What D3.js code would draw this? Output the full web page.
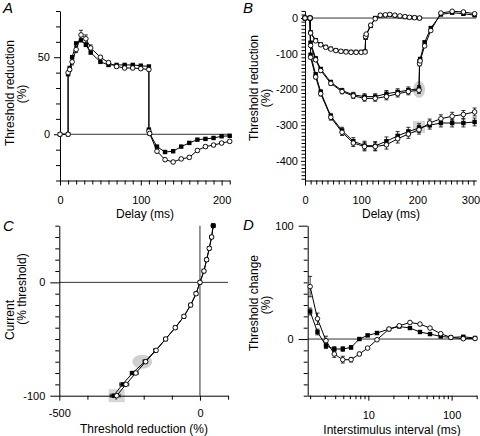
<!DOCTYPE html>
<html><head><meta charset="utf-8">
<script src="https://cdn.jsdelivr.net/npm/d3@7"></script>
<style>body{margin:0;background:#fff} svg{display:block} text{font-family:"Liberation Sans",Arial,sans-serif;fill:#000}</style>
</head><body><svg id="c" width="480" height="436"></svg>
<script>
// ---------- Panel A ----------
const aDelay  = [0, 10, 10, 12, 15, 20, 26, 32, 38, 50, 60, 70, 80, 90, 100, 110, 110, 111, 120, 130, 140, 150, 160, 170, 180, 190, 200, 210];
const aFilled = [0, 0, 39, 43, 50, 59, 61, 58, 53, 47, 45, 45, 45, 45, 44.5, 44, 3, 0.5, -8, -11.5, -11, -8, -5.6, -3.5, -3, -2.4, -1.3, -1];
const aOpen   = [0, 0, 40, 42, 47, 55, 64.5, 62, 56, 50, 46.5, 44, 43, 43, 42.6, 42, 2, 0.5, -11, -16.5, -18, -16, -15, -10.5, -8, -7, -5.7, -4.6];
const aOpenErr = [0, 0, 1, 1, 2, 2, 3, 2.5, 2, 1, 1, 1, 1, 1, 1, 1, 1, 0.5, 1, 1, 1, 1, 1, 1, 1, 1, 1, 1];
// ---------- Panel B ----------
const bTopDelay  = [0, 9, 10, 19, 28, 37, 46, 55, 64, 73, 82, 91, 100, 107, 108, 109, 117, 125, 134, 143, 151, 160, 169, 178, 186, 195, 204];
const bTopOpen   = [0, 0, -42, -64, -75, -82, -87, -91, -93, -95, -96, -96, -96, -95, -52, -45, -20, -2, 8, 9, 10, 8, 6, 4, 2, 1, 0];
const bTopFilled = [0, 0, -40, -62, -74, -81, -86, -90, -93, -94, -95, -95, -95, -94, -55, -48, -22, 0, 7, 8, 9, 7, 5, 3, 2, 1, 0];
const bMidDelay  = [0, 9, 10, 19, 28, 46, 66, 86, 106, 125, 145, 165, 184, 203, 204, 205, 213, 224, 242, 262, 282, 302];
const bMidFilled = [0, 0, -69, -113, -143, -180, -203, -215, -220, -220, -212, -207, -202, -198, -122, -115, -68, -28, 10, 15, 12, 8];
const bMidOpen   = [0, 0, -77, -117, -147, -183, -206, -218, -225, -225, -220, -212, -206, -202, -128, -120, -78, -35, 14, 19, 17, 12];
const bMidErr    = [0, 0, 3, 4, 5, 6, 6, 7, 8, 8, 9, 9, 9, 9, 6, 5, 4, 3, 3, 3, 3, 3];
const bBotDelay  = [0, 9, 10, 19, 28, 46, 66, 86, 106, 125, 145, 165, 184, 203, 222, 242, 262, 282, 302];
const bBotFilled = [0, 0, -103, -158, -207, -275, -315, -345, -357, -358, -345, -330, -318, -308, -300, -294, -294, -294, -291];
const bBotOpen   = [0, 0, -110, -165, -212, -278, -320, -350, -360, -360, -355, -338, -325, -313, -294, -282, -275, -270, -263];
const bBotErr    = [0, 0, 4, 5, 6, 8, 9, 10, 12, 12, 12, 12, 12, 12, 11, 11, 11, 11, 11];
// ---------- Panel C ----------
const cCurrent = [50, 40, 30, 20, 10, 0, -10, -20, -30, -40, -50, -60, -70, -80, -90, -100];
const cOpen    = [47, 41.5, 33, 23.7, 14.2, 0, -14, -33, -57, -88, -122, -156, -193, -228, -263, -296];
const cFilled  = [47, 41, 33, 23.5, 14, 0, -14, -33, -57, -88, -122, -158, -196, -240, -275, -307];
const cErr     = [0, 0, 0, 0, 0, 0, 0, 0, 0, 0, 0, 2, 4, 8, 10, 12];
// ---------- Panel D ----------
const dInterval = [2.0, 2.45, 3.1, 3.9, 4.93, 6.2, 7.8, 9.8, 12.7, 17.7, 23.5, 31.6, 41.7, 55, 74, 98, 138, 191];
const dOpen     = [46.3, 17.9, -1.5, -13.2, -18.2, -18.2, -13.2, -8, -0.6, 8.8, 11.7, 14.6, 13.2, 9.7, 4.7, 1.4, 0.3, 0.5];
const dFilled   = [24.3, 6.2, -5.9, -8.8, -8.8, -7.4, 0, 3.2, 5.3, 8.8, 11.1, 9.7, 6.2, 4.4, 2.3, 1.4, 2, 0.9];
const dOpenErr  = [9, 5, 4, 3, 3, 2, 1.5, 1, 1, 1, 1, 1, 1, 1, 1, 1, 1, 1];
const dFilledErr= [3, 2.5, 2.5, 2, 2, 1.5, 1, 1, 1, 1, 1, 1, 1, 1, 1, 1, 1, 1];

const svg = d3.select("#c");
const range = (a, b, s) => d3.range(a, b + s / 2, s).map(v => Math.round(v * 100) / 100);

function yAxis(scale, x0, all, labeled, minorLen, majorLen, pad) {
  const g1 = svg.append("g").attr("transform", `translate(${x0},0)`);
  g1.call(d3.axisLeft(scale).tickValues(all.filter(v => !labeled.includes(v))).tickSize(minorLen).tickSizeOuter(0).tickFormat(""));
  const g2 = svg.append("g").attr("transform", `translate(${x0},0)`);
  g2.call(d3.axisLeft(scale).tickValues(labeled).tickSize(majorLen).tickPadding(pad).tickFormat(d => String(d)));
  g2.select(".domain").remove();
  [g1, g2].forEach(g => { g.selectAll("line,path").attr("stroke", "#000").attr("stroke-width", 1); g.selectAll("text").attr("font-size", 11).attr("font-family", "Liberation Sans, Arial, sans-serif"); });
  return g2;
}
function xAxis(scale, y0, all, labeled, minorLen, majorLen, pad) {
  const g1 = svg.append("g").attr("transform", `translate(0,${y0})`);
  g1.call(d3.axisBottom(scale).tickValues(all.filter(v => !labeled.includes(v))).tickSize(minorLen).tickSizeOuter(0).tickFormat(""));
  const g2 = svg.append("g").attr("transform", `translate(0,${y0})`);
  g2.call(d3.axisBottom(scale).tickValues(labeled).tickSize(majorLen).tickPadding(pad).tickFormat(d => String(d)));
  g2.select(".domain").remove();
  [g1, g2].forEach(g => { g.selectAll("line,path").attr("stroke", "#000").attr("stroke-width", 1); g.selectAll("text").attr("font-size", 11).attr("font-family", "Liberation Sans, Arial, sans-serif"); });
  return g2;
}
function hline(sx, sy, x0, x1, v) {
  svg.append("line").attr("x1", sx(x0)).attr("x2", sx(x1)).attr("y1", sy(v)).attr("y2", sy(v)).attr("stroke", "#333").attr("stroke-width", 1);
}
function vline(sx, sy, y0, y1, v) {
  svg.append("line").attr("y1", sy(y0)).attr("y2", sy(y1)).attr("x1", sx(v)).attr("x2", sx(v)).attr("stroke", "#333").attr("stroke-width", 1);
}
function series(xs, ys, sx, sy, kind, errs, horiz) {
  const pts = xs.map((x, i) => ({ x, y: ys[i], e: errs ? errs[i] : 0 }));
  const g = svg.append("g");
  g.append("path").datum(pts).attr("fill", "none").attr("stroke", "#000").attr("stroke-width", 1)
    .attr("d", d3.line().x(d => sx(d.x)).y(d => sy(d.y)));
  pts.filter(d => d.e > 0).forEach(d => {
    if (!horiz) {
      const x = sx(d.x), y1 = sy(d.y - d.e), y2 = sy(d.y + d.e);
      g.append("line").attr("x1", x).attr("x2", x).attr("y1", y1).attr("y2", y2).attr("stroke", "#000").attr("stroke-width", 0.8);
      [y1, y2].forEach(yy => g.append("line").attr("x1", x - 2).attr("x2", x + 2).attr("y1", yy).attr("y2", yy).attr("stroke", "#000").attr("stroke-width", 0.8));
    } else {
      const y = sy(d.y), x1 = sx(d.x - d.e), x2 = sx(d.x + d.e);
      g.append("line").attr("y1", y).attr("y2", y).attr("x1", x1).attr("x2", x2).attr("stroke", "#000").attr("stroke-width", 0.8);
      [x1, x2].forEach(xx => g.append("line").attr("y1", y - 2).attr("y2", y + 2).attr("x1", xx).attr("x2", xx).attr("stroke", "#000").attr("stroke-width", 0.8));
    }
  });
  if (kind === "filled") {
    g.selectAll("rect").data(pts).join("rect").attr("x", d => sx(d.x) - 2.2).attr("y", d => sy(d.y) - 2.2)
      .attr("width", 4.4).attr("height", 4.4).attr("fill", "#000");
  } else {
    g.selectAll("circle").data(pts).join("circle").attr("cx", d => sx(d.x)).attr("cy", d => sy(d.y))
      .attr("r", 2.3).attr("fill", "#fff").attr("stroke", "#000").attr("stroke-width", 0.9);
  }
}
function label(t, x, y, size, anchor, italic) {
  svg.append("text").attr("x", x).attr("y", y).attr("font-size", size).attr("text-anchor", anchor || "middle")
    .attr("font-style", italic ? "italic" : "normal").text(t);
}
function rlabel(t, x, y, size) {
  svg.append("text").attr("transform", `translate(${x},${y}) rotate(-90)`).attr("font-size", size).attr("text-anchor", "middle").text(t);
}

// ===== Panel A =====
{
  const sx = d3.scaleLinear([0, 210], [60, 229.7]);
  const sy = d3.scaleLinear([-30, 80], [180.5, 11]);
  hline(sx, sy, 0, 210, 0);
  yAxis(sy, 60, range(-30, 80, 10), [0, 50], 4, 6, 4);
  xAxis(sx, 180.5, range(0, 210, 10), [0, 100, 200], 4, 5, 11);
  series(aDelay, aFilled, sx, sy, "filled");
  series(aDelay, aOpen, sx, sy, "open", aOpenErr);
  label("A", 3, 13, 15, "start", true);
  rlabel("Threshold reduction", 14, 93, 12);
  rlabel("(%)", 26, 94, 12);
  label("Delay (ms)", 145, 218, 12);
}
// ===== Panel B =====
{
  const sx = d3.scaleLinear([0, 305], [305, 476.3]);
  const sy = d3.scaleLinear([-455, 20], [180.5, 10.9]);
  hline(sx, sy, 0, 305, 0);
  svg.append("ellipse").attr("cx", sx(203)).attr("cy", sy(-200)).attr("rx", 6).attr("ry", 8.5).attr("fill", "#cfcfcf");
  svg.append("rect").attr("x", sx(203) - 6).attr("y", sy(-305) - 6).attr("width", 12).attr("height", 12).attr("fill", "#d6d6d6");
  yAxis(sy, 305, range(-450, 20, 10), [0, -100, -200, -300, -400], 3.5, 4, 3);
  const bx = xAxis(sx, 180.5, range(0, 300, 10), [0, 100, 200, 300], 4, 5, 11);
  bx.selectAll(".tick text").filter(d => d === 300).attr("dx", -3);
  series(bBotDelay, bBotFilled, sx, sy, "filled", bBotErr);
  series(bBotDelay, bBotOpen, sx, sy, "open", bBotErr);
  series(bMidDelay, bMidFilled, sx, sy, "filled", bMidErr);
  series(bMidDelay, bMidOpen, sx, sy, "open", bMidErr);
  series(bTopDelay, bTopFilled, sx, sy, "filled");
  series(bTopDelay, bTopOpen, sx, sy, "open");
  label("B", 243, 13, 15, "start", true);
  rlabel("Threshold reduction", 258, 88, 12);
  rlabel("(%)", 270, 98, 12);
  label("Delay (ms)", 391, 218, 12);
}
// ===== Panel C =====
{
  const sx = d3.scaleLinear([-500, 100], [59.3, 228.1]);
  const sy = d3.scaleLinear([-100, 50], [395.7, 225.7]);
  hline(sx, sy, -500, 100, 0);
  vline(sx, sy, -100, 50, 0);
  svg.append("ellipse").attr("cx", sx(-205)).attr("cy", sy(-70)).attr("rx", 10).attr("ry", 7).attr("fill", "#d0d0d0");
  svg.append("rect").attr("x", sx(-296) - 8).attr("y", sy(-100) - 6.5).attr("width", 16).attr("height", 13).attr("fill", "#d6d6d6");
  yAxis(sy, 59.3, range(-100, 50, 10), [0, -100], 4, 9, 5);
  xAxis(sx, 395.7, range(-500, 100, 100), [-500, 0], 4, 5, 9);
  series(cFilled, cCurrent, sx, sy, "filled", cErr, true);
  series(cOpen, cCurrent, sx, sy, "open", cErr, true);
  svg.append("rect").attr("x", sx(cFilled[0]) - 2.2).attr("y", sy(cCurrent[0]) - 2.2).attr("width", 4.4).attr("height", 4.4).attr("fill", "#000");
  label("C", 3, 231, 15, "start", true);
  rlabel("Current", 14, 320, 12);
  rlabel("(% threshold)", 26, 289, 12);
  label("Threshold reduction (%)", 144, 433, 12);
}
// ===== Panel D =====
{
  const sx = d3.scaleLog([1.87, 200], [307.7, 476.7]);
  const sy = d3.scaleLinear([-50, 100], [395.7, 225.7]);
  hline(sx, sy, 1.87, 200, 0);
  yAxis(sy, 307.7, range(-50, 100, 10), [0, 100], 4, 9, 5);
  xAxis(sx, 395.7, [2, 3, 4, 5, 6, 7, 8, 9, 10, 20, 30, 40, 50, 60, 70, 80, 90, 100, 200], [10, 100], 3.5, 5, 11);
  series(dInterval, dFilled, sx, sy, "filled", dFilledErr);
  series(dInterval, dOpen, sx, sy, "open", dOpenErr);
  label("D", 243, 230, 15, "start", true);
  rlabel("Threshold change", 258, 303, 12);
  rlabel("(%)", 270, 305, 12);
  label("Interstimulus interval (ms)", 392, 434, 12);
}
</script></body></html>
